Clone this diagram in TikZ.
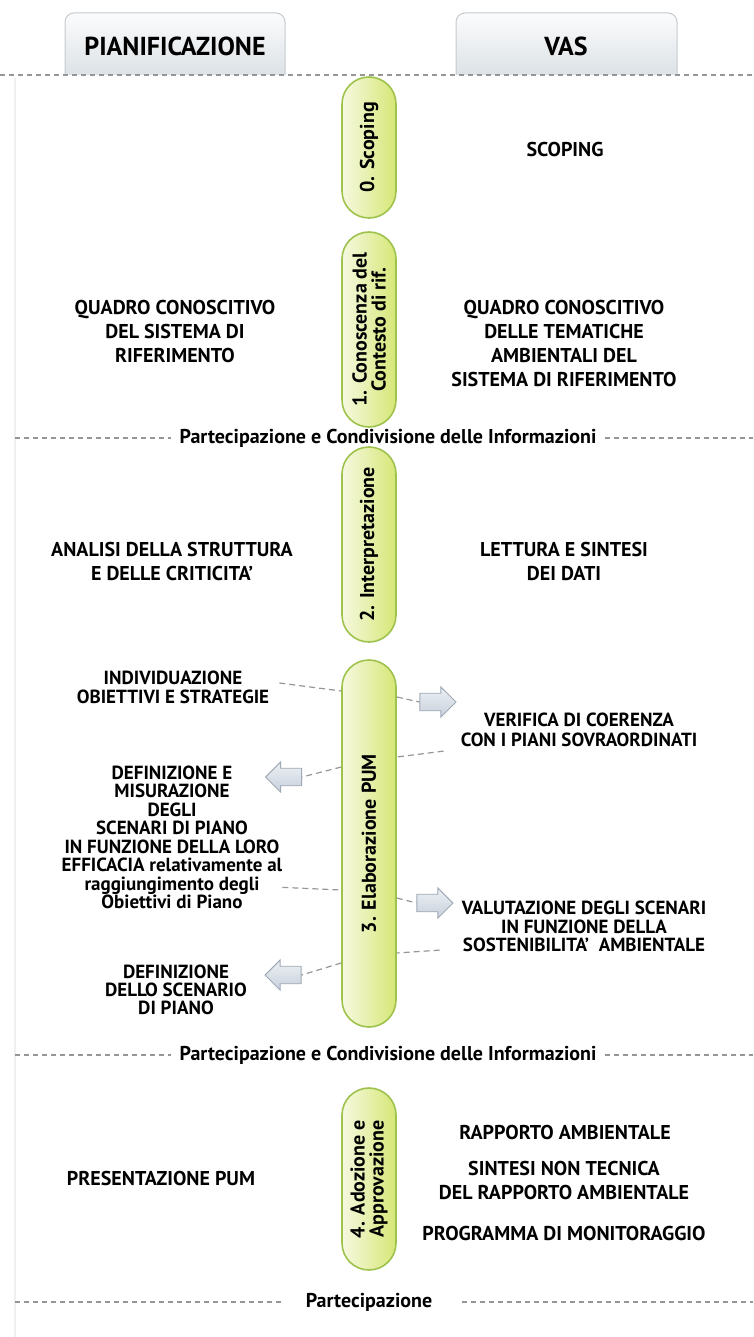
\documentclass[tikz,border=0pt]{standalone}
\usepackage{fontspec}
\setmainfont{PT Sans}
\usetikzlibrary{shapes.arrows}
\definecolor{pillEdge}{RGB}{158,194,76}
\definecolor{pillLight}{RGB}{246,249,224}
\definecolor{pillDark}{RGB}{214,231,118}
\definecolor{tabEdge}{RGB}{196,202,206}
\definecolor{tabTop}{RGB}{252,252,253}
\definecolor{tabBot}{RGB}{220,226,230}
\definecolor{dashGray}{RGB}{150,150,150}
\definecolor{arrTop}{RGB}{236,240,244}
\definecolor{arrFill}{RGB}{200,209,220}
\definecolor{arrEdge}{RGB}{160,170,182}
\tikzset{
  txt/.style={font=\bfseries\fontsize{20}{24}\selectfont, align=center, inner sep=0pt},
  midtxt/.style={font=\bfseries\fontsize{19}{19}\selectfont, align=center, inner sep=0pt},
  headtxt/.style={font=\bfseries\fontsize{26}{30}\selectfont, inner sep=0pt},
  parttxt/.style={font=\bfseries\fontsize{20}{24}\selectfont, inner sep=0pt},
  pill/.style={rectangle, rounded corners=27pt, minimum width=54pt, draw=pillEdge, line width=1.6pt, left color=pillLight, right color=pillDark, inner sep=0pt},
  pilltxt/.style={rotate=90, align=center, inner sep=0pt, font=\bfseries\fontsize{20}{19}\selectfont},
  tab/.style={draw=tabEdge, line width=1pt, top color=tabTop, bottom color=tabBot, rounded corners=9pt},
  sepline/.style={draw=dashGray, line width=1.3pt, dash pattern=on 5pt off 4pt},
  link/.style={draw=dashGray, line width=1.2pt, dash pattern=on 6pt off 4pt},
  blockarrow/.style={single arrow, draw=arrEdge, line width=0.9pt, top color=arrTop, bottom color=arrFill, minimum height=36pt, minimum width=30pt, single arrow head extend=6pt, inner xsep=0pt, inner ysep=8pt},
}
\begin{document}
\begin{tikzpicture}[x=1pt,y=-1pt]
\useasboundingbox (0,0) rectangle (753,1337);
%\draw[step=50,gray,very thin] (0,0) grid (753,1337);
\draw[gray!12,line width=1.5pt] (15,78) -- (15,1337);
% tabs
\shade[tab] (65,75) |- (285,13) -- (285,75);
\shade[tab] (456,75) |- (677,13) -- (677,75);
\node[headtxt] (hplan) at (175,46) {PIANIFICAZIONE};
\node[headtxt] (hvas) at (566,46) {VAS};
\draw[sepline] (0,75) -- (753,75);
% phases
\node[pill, minimum height=141pt] (p0) at (369,147.5) {};
\node[pilltxt] (p0t) at (p0) {0. Scoping};
\node[pill, minimum height=195pt] (p1) at (369,329.5) {};
\node[pilltxt] (p1t) at (p1) {1. Conoscenza del\\Contesto di rif.};
\node[pill, minimum height=195pt] (p2) at (369,544.5) {};
\node[pilltxt] (p2t) at (p2) {2. Interpretazione};
\node[pill, minimum height=367pt] (p3) at (369,843.5) {};
\node[pilltxt] (p3t) at (p3) {3. Elaborazione PUM};
\node[pill, minimum height=182pt] (p4) at (369,1179) {};
\node[pilltxt] (p4t) at (p4) {4. Adozione e\\Approvazione};
% participation lines
\node[parttxt] (part1) at (388,438) {Partecipazione e Condivisione delle Informazioni};
\draw[sepline,shorten >=8pt] (part1.west -| 15,0) -- (part1.west);
\draw[sepline,shorten <=8pt] (part1.east) -- (part1.east -| 753,0);
\node[parttxt] (part2) at (388,1055) {Partecipazione e Condivisione delle Informazioni};
\draw[sepline,shorten >=8pt] (part2.west -| 15,0) -- (part2.west);
\draw[sepline,shorten <=8pt] (part2.east) -- (part2.east -| 753,0);
\node[parttxt] (part3) at (369,1302) {Partecipazione};
\draw[sepline,shorten >=22pt] (part3.west -| 15,0) -- (part3.west);
\draw[sepline,shorten <=30pt] (part3.east) -- (part3.east -| 753,0);
% texts
\node[txt] (scop) at (565,150) {SCOPING};
\node[txt] (quadl) at (175,331) {QUADRO CONOSCITIVO\\DEL SISTEMA DI\\RIFERIMENTO};
\node[txt] (quadr) at (564,343) {QUADRO CONOSCITIVO\\DELLE TEMATICHE\\AMBIENTALI DEL\\SISTEMA DI RIFERIMENTO};
\node[txt] (anal) at (172,561) {ANALISI DELLA STRUTTURA\\E DELLE CRITICITA’};
\node[txt] (lett) at (564,561) {LETTURA E SINTESI\\DEI DATI};
\node[midtxt] (indiv) at (173,687.5) {INDIVIDUAZIONE\\OBIETTIVI E STRATEGIE};
\node[midtxt, font=\bfseries\fontsize{19}{20}\selectfont] (verif) at (579,730) {VERIFICA DI COERENZA\\CON I PIANI SOVRAORDINATI};
\node[midtxt, font=\bfseries\fontsize{19}{18.5}\selectfont] (defin) at (172,837.5) {DEFINIZIONE E\\MISURAZIONE\\DEGLI\\SCENARI DI PIANO\\IN FUNZIONE DELLA LORO\\EFFICACIA relativamente al\\raggiungimento degli\\Obiettivi di Piano};
\node[midtxt, font=\bfseries\fontsize{19}{18.5}\selectfont] (valut) at (584,926.5) {VALUTAZIONE DEGLI SCENARI\\IN FUNZIONE DELLA\\SOSTENIBILITA’\ \ AMBIENTALE};
\node[midtxt, font=\bfseries\fontsize{19}{18}\selectfont] (scen) at (176,990) {DEFINIZIONE\\DELLO SCENARIO\\DI PIANO};
\node[txt] (pres) at (161,1178) {PRESENTAZIONE PUM};
\node[txt] (rapp) at (565,1132) {RAPPORTO AMBIENTALE};
\node[txt] (sint) at (564,1180) {SINTESI NON TECNICA\\DEL RAPPORTO AMBIENTALE};
\node[txt] (prog) at (564,1233) {PROGRAMMA DI MONITORAGGIO};
% arrows
\node[blockarrow] (arrA) at (433.5,702) {};
\node[blockarrow] (arrB) at (430.5,903) {};
\node[blockarrow, shape border rotate=180] (arrC) at (288,777) {};
\node[blockarrow, shape border rotate=180] (arrD) at (287.5,975) {};
\coordinate (p3a) at (p3.west |- 0,691);
\coordinate (p3b) at (p3.east |- 0,697);
\coordinate (p3c) at (p3.east |- 0,757);
\coordinate (p3d) at (p3.west |- 0,767);
\coordinate (p3e) at (p3.west |- 0,890);
\coordinate (p3f) at (p3.east |- 0,898);
\coordinate (p3g) at (p3.east |- 0,953);
\coordinate (p3h) at (p3.west |- 0,963);
\draw[link] ([xshift=10pt,yshift=4.5pt]indiv.east) -- (p3a);
\draw[link] (p3b) -- (arrA.tail);
\draw[link] ([xshift=-17pt,yshift=-4pt]verif.south west) -- (p3c);
\draw[link] (p3d) -- (arrC.tail);
\draw[link] ([yshift=22pt]defin.south east) -- (p3e);
\draw[link] (p3f) -- (arrB.tail);
\draw[link] ([xshift=-22pt,yshift=2pt]valut.south west) -- (p3g);
\draw[link] (p3h) -- (arrD.tail);
\end{tikzpicture}
\end{document}
